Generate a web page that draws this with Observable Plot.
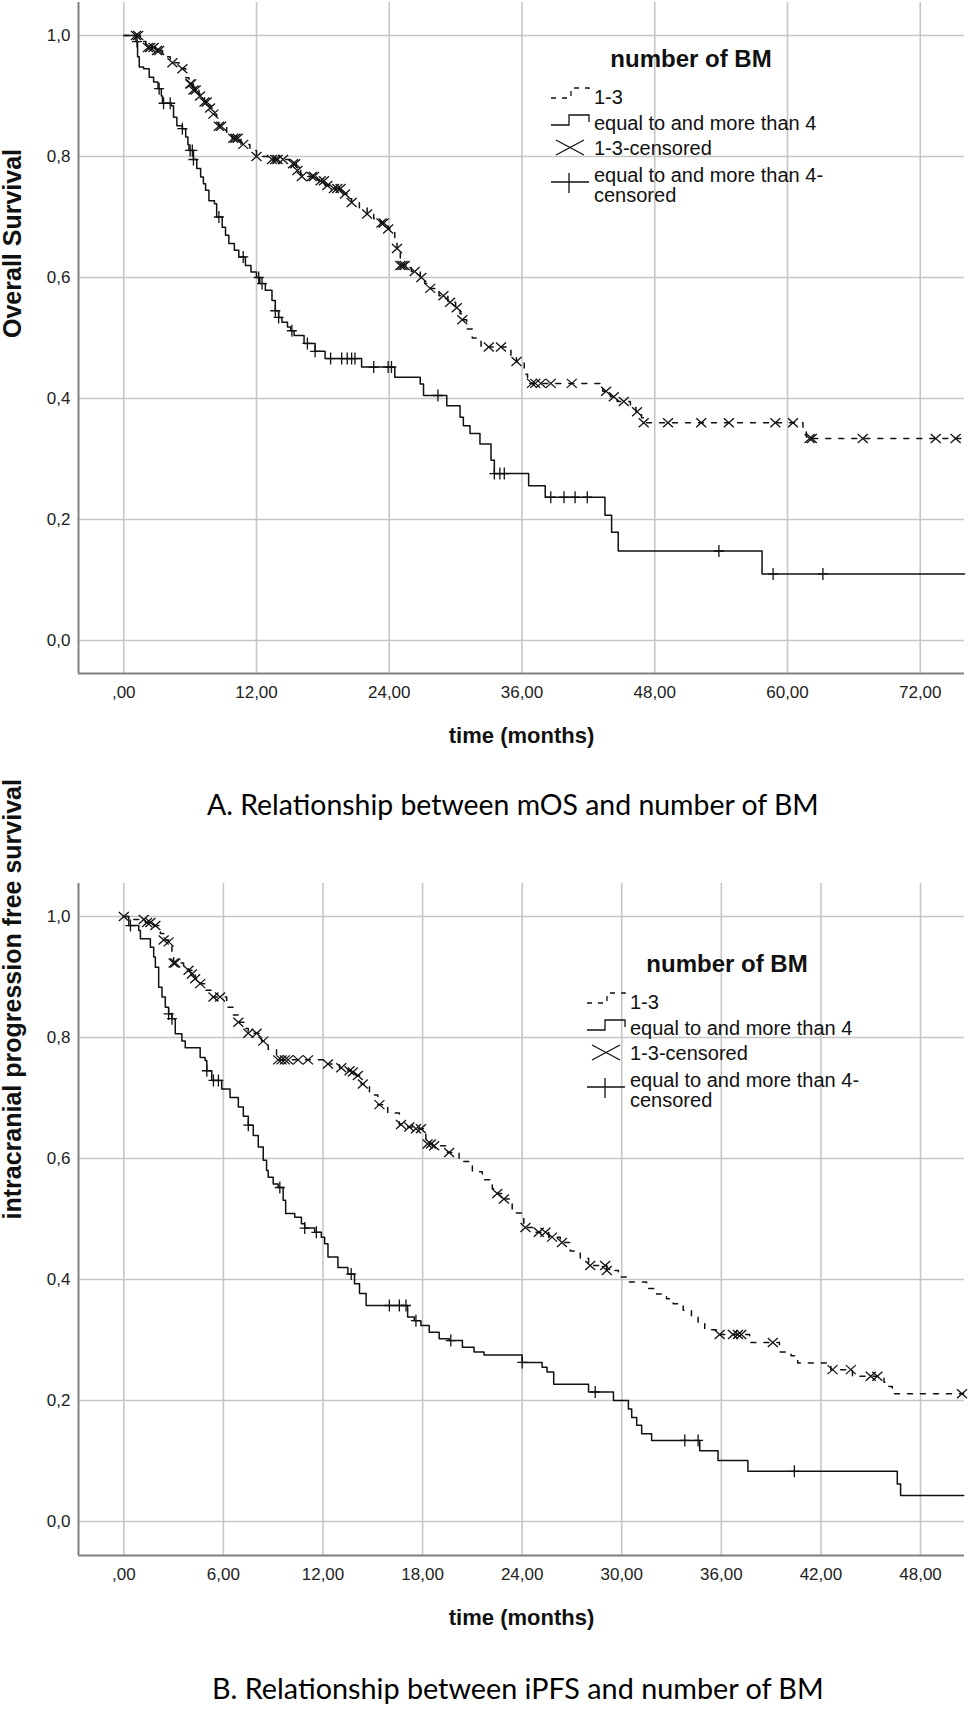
<!DOCTYPE html>
<html><head><meta charset="utf-8">
<script src="https://cdn.jsdelivr.net/npm/d3@7"></script>
<script src="https://cdn.jsdelivr.net/npm/@observablehq/plot@0.6"></script>
<style>
html,body{margin:0;padding:0;background:#fff}
body{width:968px;height:1712px;position:relative;overflow:hidden;font-family:"Liberation Sans",Arial,sans-serif}
.abs{position:absolute;left:0}
.caption{position:absolute;font-family:Lato,"Open Sans",sans-serif;white-space:nowrap;color:#000;line-height:1}
#overlay{position:absolute;left:0;top:0;pointer-events:none}
</style></head><body>
<div id="plotA" class="abs" style="top:0px"></div>
<div id="capA" class="caption"></div>
<div id="plotB" class="abs" style="top:878px"></div>
<div id="capB" class="caption"></div>
<svg id="overlay" width="968" height="1712" xmlns="http://www.w3.org/2000/svg"></svg>
<script>
// ---------- DATA ----------
// Chart A: overall survival (months)
const osTimes13 = [0,1.5,2.0,2.9,3.5,4.2,5.0,5.6,5.9,6.3,6.8,7.3,7.8,8.1,8.4,8.6,9.3,9.8,10.6,11.4,12.0,13.0,15.0,15.6,16.0,17.6,18.2,18.8,19.8,20.3,20.6,21.3,22.0,22.6,23.2,23.9,24.5,24.7,25.0,26.0,26.8,27.2,27.7,28.5,29.3,30.0,30.4,30.6,31.0,31.5,32.3,35.0,35.5,36.2,36.5,43.3,44.0,44.6,45.8,46.3,46.8,47.0,61.4,61.7,76];
const osSurv13  = [1.0,0.99,0.98,0.975,0.965,0.955,0.945,0.93,0.92,0.91,0.90,0.89,0.88,0.87,0.86,0.85,0.84,0.83,0.82,0.81,0.80,0.795,0.788,0.777,0.767,0.76,0.752,0.747,0.738,0.73,0.724,0.715,0.705,0.697,0.69,0.68,0.665,0.648,0.62,0.61,0.60,0.59,0.582,0.57,0.559,0.55,0.54,0.53,0.515,0.50,0.485,0.47,0.461,0.44,0.425,0.412,0.403,0.395,0.385,0.378,0.368,0.36,0.345,0.334,0.334];
const osCens13  = [1.1,1.3,2.2,2.4,2.7,3.0,3.2,4.4,5.3,6.0,6.1,6.3,6.5,6.9,7.3,7.5,7.8,8.1,8.6,8.8,9.9,10.1,10.3,10.8,12.0,13.4,13.7,13.9,14.4,15.3,15.5,15.7,16.1,17.0,17.2,17.8,18.1,18.4,19.0,19.3,19.6,20.0,20.6,22.0,23.3,23.5,23.9,24.7,25.0,25.2,25.4,26.3,26.9,27.7,28.9,29.5,30.1,30.6,33.0,34.1,35.5,36.9,37.2,37.7,38.6,40.5,43.6,44.3,45.2,46.4,47.0,49.2,52.2,54.7,58.9,60.5,62.0,62.2,66.8,73.4,75.2];
const osTimes4  = [0,1.1,1.25,1.4,1.8,2.3,2.7,3.1,3.4,3.5,4.3,4.5,4.8,5.3,5.6,5.8,5.9,6.3,6.6,6.95,7.2,7.4,7.7,8.2,8.4,8.9,9.2,9.5,10.0,10.4,11.0,11.5,12.0,12.3,12.8,13.4,13.7,14.0,14.3,14.8,15.1,15.4,16.3,17.3,18.2,21.5,24.5,26.8,27.1,29.2,30.4,30.7,31.3,32.2,33.2,33.5,36.6,38.1,43.5,44.1,44.7,57.7,76];
const osSurv4   = [1,0.99,0.965,0.948,0.945,0.931,0.923,0.912,0.9,0.888,0.884,0.865,0.851,0.846,0.832,0.82,0.81,0.795,0.78,0.766,0.755,0.744,0.727,0.722,0.70,0.683,0.67,0.656,0.645,0.634,0.62,0.609,0.60,0.59,0.579,0.562,0.545,0.534,0.526,0.518,0.512,0.504,0.491,0.478,0.466,0.452,0.435,0.424,0.405,0.388,0.369,0.355,0.342,0.325,0.298,0.276,0.256,0.237,0.207,0.179,0.148,0.110,0.110];
const osCens4   = [1.2,3.2,3.6,4.2,5.3,6.0,6.2,6.3,8.6,10.8,12.2,12.5,13.7,14.0,15.2,16.6,17.3,18.7,19.7,20.2,20.6,20.9,22.6,23.9,24.2,28.4,33.5,34.0,34.4,38.6,39.8,40.8,41.9,53.8,58.7,63.2];

// Chart B: intracranial progression free survival (months)
const pfsTimes13 = [0,0.5,1.3,1.7,2.2,2.4,2.7,2.9,3.0,3.6,3.9,4.1,4.3,4.6,4.9,5.3,6.2,6.6,6.9,7.3,7.5,8.3,8.7,9.2,12.2,13.0,13.5,13.7,14.0,14.3,14.8,15.3,15.9,16.6,17.1,17.5,18.2,18.6,19.5,20.2,21.0,21.6,22.2,22.5,22.8,23.4,24.1,24.8,25.6,26.3,26.9,27.5,28.0,29.1,29.8,30.3,31.5,32.1,32.7,33.1,33.7,34.2,34.6,35.0,35.7,37.7,39.5,40.2,40.6,42.6,43.9,45.8,46.1,46.3,50.6];
const pfsSurv13  = [1.0,0.995,0.99,0.985,0.972,0.961,0.958,0.94,0.923,0.915,0.911,0.905,0.897,0.889,0.878,0.867,0.85,0.837,0.825,0.815,0.807,0.794,0.78,0.763,0.756,0.75,0.745,0.743,0.737,0.723,0.705,0.689,0.675,0.656,0.652,0.649,0.624,0.621,0.61,0.595,0.578,0.565,0.55,0.542,0.533,0.51,0.486,0.478,0.47,0.461,0.447,0.435,0.423,0.415,0.404,0.396,0.385,0.376,0.368,0.36,0.349,0.338,0.327,0.317,0.309,0.296,0.28,0.274,0.262,0.251,0.24,0.23,0.223,0.211,0.211];
const pfsCens13  = [0.0,1.2,1.4,1.6,1.9,2.4,2.7,3.0,3.1,3.9,4.1,4.3,4.6,5.4,5.8,6.9,7.5,8.0,8.4,9.3,9.5,9.7,9.9,10.5,11.1,12.3,13.1,13.6,13.8,14.1,14.4,15.4,16.7,17.2,17.6,17.9,18.3,18.5,18.7,19.6,22.5,22.9,24.2,25.0,25.4,25.8,26.4,28.1,29.0,29.1,35.9,36.7,37.0,37.2,39.1,42.7,43.8,45.0,45.4,50.5];
const pfsTimes4  = [0,0.3,0.9,1.0,1.6,1.8,1.9,2.1,2.3,2.5,2.7,2.9,3.1,3.5,3.7,4.6,4.9,5.0,5.3,5.9,6.4,6.9,7.2,7.5,7.8,8.1,8.4,8.6,8.7,9.0,9.3,9.6,9.75,10.3,10.7,10.9,11.5,11.9,12.1,12.3,12.9,13.5,13.9,14.2,14.6,17.1,17.5,17.9,18.4,19.0,19.6,20.4,21.1,21.7,24.0,25.2,25.5,25.9,28.0,29.5,30.4,30.6,30.9,31.2,31.8,34.7,35.8,37.6,46.6,46.8,50.6];
const pfsSurv4   = [1,0.985,0.977,0.963,0.949,0.933,0.916,0.883,0.867,0.85,0.839,0.831,0.806,0.794,0.783,0.767,0.762,0.745,0.729,0.715,0.701,0.685,0.67,0.655,0.638,0.619,0.597,0.58,0.569,0.558,0.552,0.531,0.509,0.503,0.492,0.485,0.478,0.47,0.459,0.437,0.42,0.409,0.393,0.377,0.357,0.338,0.332,0.324,0.313,0.302,0.299,0.288,0.28,0.275,0.263,0.255,0.247,0.227,0.214,0.2,0.186,0.172,0.159,0.145,0.134,0.117,0.101,0.083,0.062,0.043,0.043];
const pfsCens4   = [0.4,2.7,2.9,5.0,5.4,5.7,7.5,9.4,10.9,11.6,13.7,16.0,16.6,17.0,17.6,19.7,24.0,28.4,33.8,34.6,40.4];

// Axis ticks and labels
const xTicksA = [0,12,24,36,48,60,72];
const xLabelsA = [",00","12,00","24,00","36,00","48,00","60,00","72,00"];
const xTicksB = [0,6,12,18,24,30,36,42,48];
const xLabelsB = [",00","6,00","12,00","18,00","24,00","30,00","36,00","42,00","48,00"];
const yTicks = [0,0.2,0.4,0.6,0.8,1.0];
const yLabels = ["0,0","0,2","0,4","0,6","0,8","1,0"];

// Text
const legendTitle = "number of BM";
const legendItems = ["1-3","equal to and more than 4","1-3-censored","equal to and more than 4-","censored"];
const xTitle = "time (months)";
const yTitleA = "Overall Survival";
const yTitleB = "intracranial progression free survival";
const captionA = "A. Relationship between mOS and number of BM";
const captionB = "B. Relationship between iPFS and number of BM";

// ---------- HELPERS ----------
const zip = (ts, ss) => ts.map((t, i) => ({t, s: ss[i]}));
function survAt(ts, ss, t) { let v = ss[0]; for (let i = 0; i < ts.length; i++) if (ts[i] <= t) v = ss[i]; return v; }
const cens = (cs, ts, ss) => cs.map(t => ({t, s: survAt(ts, ss, t)}));
const timesSym = {draw(ctx) { ctx.moveTo(-5,-4.5); ctx.lineTo(5,4.5); ctx.moveTo(-5,4.5); ctx.lineTo(5,-4.5); }};
const plusSym  = {draw(ctx) { ctx.moveTo(-5,0); ctx.lineTo(5,0); ctx.moveTo(0,-6); ctx.lineTo(0,6); }};
const INK = "#111";

function makePlot(o) {
  const xLab = new Map(o.xTicks.map((d, i) => [d, o.xLabels[i]]));
  const yLab = new Map(yTicks.map((d, i) => [d, yLabels[i]]));
  return Plot.plot({
    width: 968, height: o.height,
    marginLeft: 78, marginRight: 4, marginTop: o.marginTop, marginBottom: o.marginBottom,
    style: {fontFamily: "'Liberation Sans', Arial, sans-serif", fontSize: "17px", color: "#222", background: "transparent", overflow: "visible"},
    x: {domain: o.xDomain},
    y: {domain: o.yDomain},
    marks: [
      Plot.gridX(o.xTicks, {stroke: "#c6c6c6", strokeOpacity: 1, strokeWidth: 1.6}),
      Plot.gridY(yTicks, {stroke: "#c6c6c6", strokeOpacity: 1, strokeWidth: 1.6}),
      Plot.ruleX([o.xDomain[0]], {stroke: "#808080", strokeWidth: 2}),
      Plot.ruleY([o.yDomain[0]], {stroke: "#808080", strokeWidth: 2}),
      Plot.axisX(o.xTicks, {tickSize: 0, tickPadding: 12, tickFormat: d => xLab.get(d), fontSize: 17, label: null}),
      Plot.axisY(yTicks, {tickSize: 0, tickPadding: 8, tickFormat: d => yLab.get(d), fontSize: 17, label: null}),
      Plot.line(zip(o.t4, o.s4), {x: "t", y: "s", curve: "step-after", stroke: INK, strokeWidth: 1.5}),
      Plot.line(zip(o.t13, o.s13), {x: "t", y: "s", curve: "step-after", stroke: INK, strokeWidth: 1.5, strokeDasharray: "5,8"}),
      Plot.dot(cens(o.c4, o.t4, o.s4), {x: "t", y: "s", symbol: plusSym, stroke: INK, fill: "none", strokeWidth: 1.3}),
      Plot.dot(cens(o.c13, o.t13, o.s13), {x: "t", y: "s", symbol: timesSym, stroke: INK, fill: "none", strokeWidth: 1.3}),
      Plot.text([o.yTitle], {text: d => d, frameAnchor: "left", dx: -66, rotate: -90, fontSize: 25, fontWeight: "bold", fill: INK}),
      Plot.text([xTitle], {text: d => d, frameAnchor: "bottom", dy: 62, fontSize: 22, fontWeight: "bold", fill: INK, lineAnchor: "middle"})
    ]
  });
}

document.getElementById("plotA").appendChild(makePlot({
  height: 760, marginTop: 2, marginBottom: 87,
  xDomain: [-4.09, 76.0], yDomain: [-0.0545, 1.0545],
  xTicks: xTicksA, xLabels: xLabelsA, yTitle: yTitleA,
  t13: osTimes13, s13: osSurv13, c13: osCens13, t4: osTimes4, s4: osSurv4, c4: osCens4
}));
document.getElementById("plotB").appendChild(makePlot({
  height: 760, marginTop: 5, marginBottom: 83,
  xDomain: [-2.73, 50.65], yDomain: [-0.0562, 1.0545],
  xTicks: xTicksB, xLabels: xLabelsB, yTitle: yTitleB,
  t13: pfsTimes13, s13: pfsSurv13, c13: pfsCens13, t4: pfsTimes4, s4: pfsSurv4, c4: pfsCens4
}));

// ---------- LEGENDS (overlay, inside plot areas) ----------
const ov = d3.select("#overlay");
function legend(ox, oy) {
  const g = ov.append("g").attr("transform", `translate(${ox},${oy})`)
    .attr("font-family", "'Liberation Sans', Arial, sans-serif").attr("fill", INK);
  g.append("text").attr("x", 691).attr("y", 58).attr("text-anchor", "middle").attr("dominant-baseline", "central")
    .attr("font-size", 24).attr("font-weight", "bold").text(legendTitle);
  g.append("path").attr("d", "M551,98H571V88H589V95").attr("fill", "none").attr("stroke", INK).attr("stroke-width", 1.3).attr("stroke-dasharray", "5,6");
  g.append("path").attr("d", "M551,125H569V115H589V122").attr("fill", "none").attr("stroke", INK).attr("stroke-width", 1.3);
  g.append("path").attr("d", "M556,140L584,155M556,155L584,140").attr("fill", "none").attr("stroke", INK).attr("stroke-width", 1.3);
  g.append("path").attr("d", "M551,182H589M569,173V193").attr("fill", "none").attr("stroke", INK).attr("stroke-width", 1.3);
  const ys = [97, 123, 148, 175, 195];
  legendItems.forEach((s, i) => g.append("text").attr("x", 594).attr("y", ys[i]).attr("dominant-baseline", "central").attr("font-size", 20).text(s));
}
legend(0, 0);
legend(36, 905);

// ---------- CAPTIONS ----------
function caption(id, text, left, cy, targetWidth) {
  const el = document.getElementById(id);
  el.textContent = text;
  el.style.fontSize = "30px";
  const w = el.getBoundingClientRect().width;
  const fs = 30 * targetWidth / w;
  el.style.fontSize = fs + "px";
  el.style.left = left + "px";
  el.style.top = (cy - fs * 0.55) + "px";
}
caption("capA", captionA, 207, 806, 612);
caption("capB", captionB, 212, 1690, 612);
</script>
</body></html>
